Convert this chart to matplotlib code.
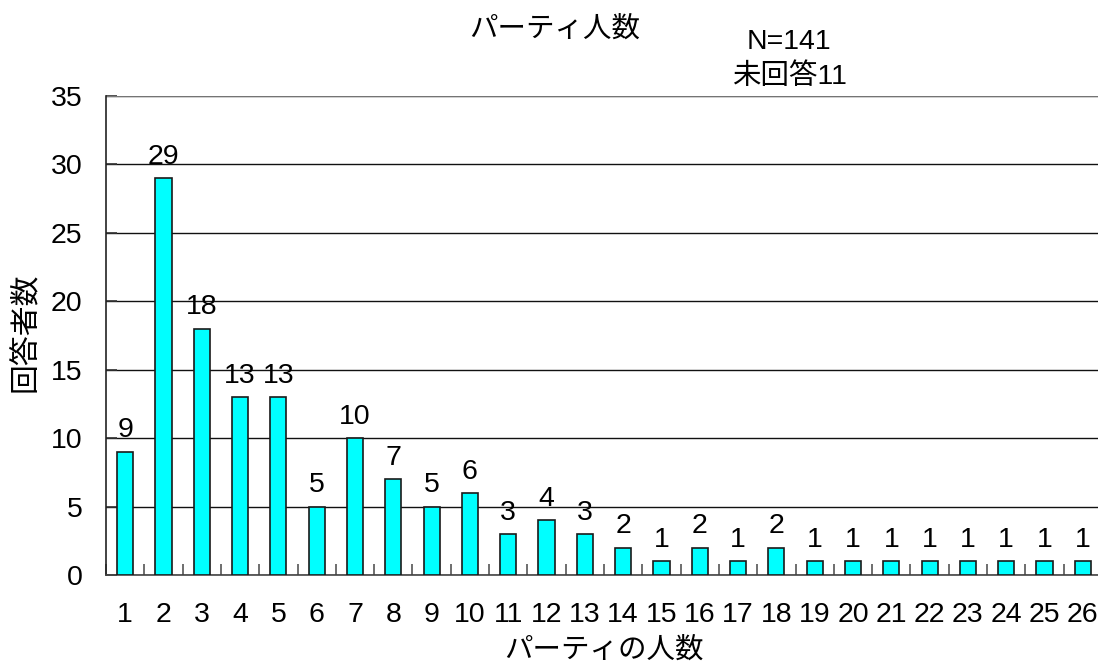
import matplotlib
matplotlib.use("Agg")
import matplotlib.pyplot as plt
from matplotlib.ticker import MultipleLocator

plt.rcParams['font.family'] = ['Liberation Sans', 'Noto Sans CJK JP', 'DejaVu Sans']

categories = [str(i) for i in range(1, 27)]
counts = [9, 29, 18, 13, 13, 5, 10, 7, 5, 6, 3, 4, 3, 2, 1, 2, 1, 2, 1, 1, 1, 1, 1, 1, 1, 1]
title = "パーティ人数"
note = "N=141\n未回答11"
xlabel = "パーティの人数"
ylabel = "回答者数"

FS = 20.5

fig = plt.figure(figsize=(10.98, 6.63), dpi=100)
ax = fig.add_axes([106 / 1098, 1 - 575 / 663, (1102 - 106) / 1098, (575 - 95.7) / 663])

x = list(range(1, len(categories) + 1))
ax.bar(x, counts, width=0.42, color='#00FFFF', edgecolor='#1a1a1a', linewidth=1.2, zorder=3)

ax.set_xlim(0.5, len(categories) + 0.5)
ax.set_ylim(0, 35)
ax.yaxis.set_major_locator(MultipleLocator(5))
ax.grid(axis='y', color='#111111', linewidth=1.0, zorder=0)
ax.set_axisbelow(True)

# gray top gridline at 35
ax.axhline(35, color='#888888', linewidth=1.2, zorder=1)

for s in ['top', 'right']:
    ax.spines[s].set_visible(False)
ax.spines['left'].set_color('#222222')
ax.spines['bottom'].set_color('#444444')
ax.spines['left'].set_linewidth(1.2)
ax.spines['bottom'].set_linewidth(1.2)

ax.set_xticks(x)
ax.set_xticklabels(categories)
ax.tick_params(axis='x', which='major', length=0, pad=19.5, labelsize=FS)
ax.set_xticks([i + 0.5 for i in range(0, len(categories) + 1)], minor=True)
ax.tick_params(axis='x', which='minor', direction='in', length=8, color='#555555', width=1.2)
ax.tick_params(axis='y', direction='in', length=8, color='#333333', width=1.2, labelsize=FS, pad=17)

for xi, v in zip(x, counts):
    ax.annotate(str(v), (xi, v), xytext=(0, 6), textcoords='offset points',
                ha='center', va='bottom', fontsize=FS)

fig.text(555 / 1098, 1 - 30 / 663, title, ha='center', va='center', fontsize=20.5)
fig.text(789 / 1098, 1 - 42 / 663, note.split("\n")[0], ha='center', va='center', fontsize=FS)
fig.text(789 / 1098, 1 - 77 / 663, note.split("\n")[1], ha='center', va='center', fontsize=FS)
fig.text(604 / 1098, 1 - 651 / 663, xlabel, ha='center', va='center', fontsize=20.5)
fig.text(26 / 1098, 1 - 332 / 663, ylabel, ha='center', va='center', fontsize=21.5, rotation=90)

fig.savefig("out.png", dpi=100)
